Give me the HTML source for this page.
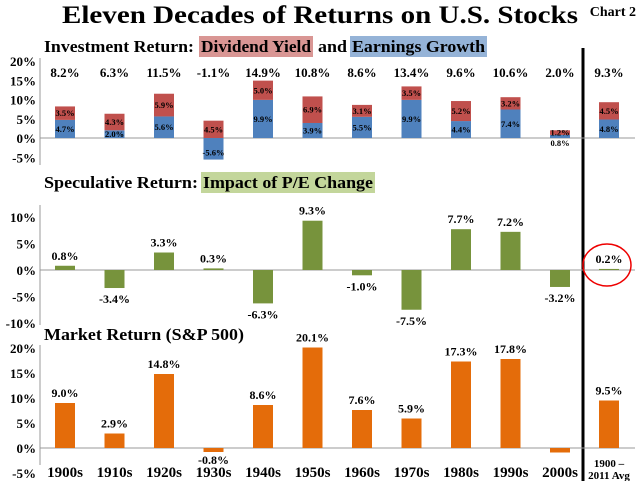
<!DOCTYPE html>
<html><head><meta charset="utf-8"><style>
body{margin:0;background:#fff;}
svg{display:block;font-family:"Liberation Serif",serif;font-weight:bold;}
</style></head><body>
<svg id="c" width="640" height="481" viewBox="0 0 640 481">
<text x="62" y="23" font-size="25" textLength="516" lengthAdjust="spacingAndGlyphs">Eleven Decades of Returns on U.S. Stocks</text>
<text x="636" y="16" font-size="14" text-anchor="end">Chart 2</text>
<rect x="199" y="36" width="114" height="21" fill="#d99694"/>
<rect x="350" y="36" width="137" height="21" fill="#95b3d7"/>
<text y="52" font-size="17"><tspan x="44" textLength="150" lengthAdjust="spacingAndGlyphs">Investment Return:</tspan><tspan x="201" textLength="110" lengthAdjust="spacingAndGlyphs">Dividend Yield</tspan><tspan x="318" textLength="29" lengthAdjust="spacingAndGlyphs">and</tspan><tspan x="352" textLength="133" lengthAdjust="spacingAndGlyphs">Earnings Growth</tspan></text>
<rect x="201" y="172" width="174" height="21" fill="#c3d69b"/>
<text y="188" font-size="17"><tspan x="44" textLength="154" lengthAdjust="spacingAndGlyphs">Speculative Return:</tspan><tspan x="203" textLength="170" lengthAdjust="spacingAndGlyphs">Impact of P/E Change</tspan></text>
<text x="44" y="340" font-size="17" textLength="200" lengthAdjust="spacingAndGlyphs">Market Return (S&amp;P 500)</text>
<line x1="583" y1="48" x2="583" y2="481" stroke="#000" stroke-width="3"/>
<g id="g"></g>
<ellipse cx="607" cy="265" rx="24" ry="21" fill="none" stroke="#e00" stroke-width="1.5"/>
</svg>
<script>
const categories=["1900s","1910s","1920s","1930s","1940s","1950s","1960s","1970s","1980s","1990s","2000s","1900 –"];
const dividendYield=[3.5,4.3,5.9,4.5,5.0,6.9,3.1,3.5,5.2,3.2,1.2,4.5];
const earningsGrowth=[4.7,2.0,5.6,-5.6,9.9,3.9,5.5,9.9,4.4,7.4,0.8,4.8];
const investmentTotal=[8.2,6.3,11.5,-1.1,14.9,10.8,8.6,13.4,9.6,10.6,2.0,9.3];
const peChange=[0.8,-3.4,3.3,0.3,-6.3,9.3,-1.0,-7.5,7.7,7.2,-3.2,0.2];
const marketReturn=[9.0,2.9,14.8,-0.8,8.6,20.1,7.6,5.9,17.3,17.8,-0.9,9.5];
const ticks1=[20,15,10,5,0,-5];
const ticks2=[10,5,0,-5,-10];
const ticks3=[20,15,10,5,0,-5];
const NS="http://www.w3.org/2000/svg";
const g=document.getElementById('g');
function xc(i){return i<11?65+i*49.5:609;}
function mk(tag,at,txt){const e=document.createElementNS(NS,tag);for(const k in at)e.setAttribute(k,at[k]);if(txt!==undefined)e.textContent=txt;g.appendChild(e);return e;}
const y1=v=>138-v*3.85, y2=v=>270-v*5.3, y3=v=>448-v*5;
function axis(ys,ticks,top,bot,name){
  const a=mk('line',{x1:40,y1:top,x2:40,y2:bot,stroke:'#999'});
  
  
  const z=mk('line',{x1:40,y1:ys(0),x2:635,y2:ys(0),stroke:'#999'});
  
  
  ticks.forEach(t=>{const e=mk('text',{x:36,y:ys(t)+5,'font-size':13,'text-anchor':'end'},t+'%');
    
    });
}
axis(y1,ticks1,58,165,'investment');
axis(y2,ticks2,205,325,'speculative');
axis(y3,ticks3,345,465,'market');
function bar(x,ys,a,b,col,name){const t=Math.min(ys(a),ys(b)),h=Math.abs(ys(a)-ys(b));
  const r=mk('rect',{x:x-10,y:t,width:20,height:h,fill:col});
  
  return r;}
function lab(x,y,s,fs,name){const e=mk('text',{x:x,y:y,'font-size':fs,'text-anchor':'middle'},s);
  
  }
categories.forEach((c,i)=>{
  const x=xc(i);
  const eg=earningsGrowth[i],dy=dividendYield[i];
  bar(x,y1,0,eg,'#4f81bd','earnings-bar');
  const base=eg>0?eg:0;
  bar(x,y1,base,base+dy,'#c0504d','dividend-bar');
  lab(x,eg<0||i==10?y1(Math.min(eg,0))+(i==10?8:-4):y1(eg/2)+3,eg.toFixed(1)+'%',8.5,'earnings-label');
  lab(x,y1(base+dy/2)+3,dy.toFixed(1)+'%',8.5,'dividend-label');
  lab(x,77,investmentTotal[i].toFixed(1)+'%',13,'investment-total-label');
  const p=peChange[i];
  bar(x,y2,0,p,'#77933c','pe-bar');
  lab(x,p>=0?y2(p)-6:y2(p)+15,p.toFixed(1)+'%',12,'pe-label');
  const m=marketReturn[i];
  bar(x,y3,0,m,'#e46c0a','market-bar');
  if(i!=10)lab(x,m>=0?y3(m)-6:y3(m)+12,m.toFixed(1)+'%',12,'market-label');
  lab(x,i<11?477:467,c,i<11?15:11,'x-category-label');
});
lab(609,479,'2011 Avg',11,'x-category-label-2');
</script>
</body></html>
